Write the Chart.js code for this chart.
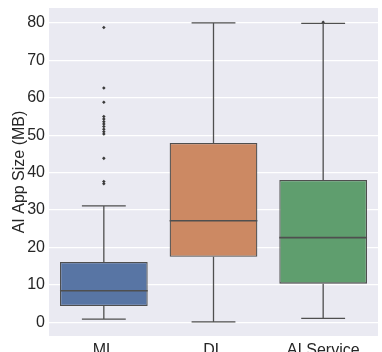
<!DOCTYPE html>
<html>
<head>
<meta charset="utf-8">
<script src="https://cdn.jsdelivr.net/npm/chart.js@4.4.1/dist/chart.umd.min.js"></script>
<style>
  html, body { margin: 0; padding: 0; background: #fff; }
  #wrap { width: 382px; height: 352px; }
</style>
</head>
<body>
<div id="wrap"><canvas id="c"></canvas></div>
<script>
/* Kutu grafiği: kutu = Q1..Q3 (yüzen çubuk), bıyık ve medyan eklentiyle çizilir */

const CATEGORIES = ["ML", "DL", "AI Service"];
const Q1 = [4.3, 17.5, 10.3];
const MEDIAN = [8.4, 27.1, 22.6];
const Q3 = [16.1, 47.9, 38.0];
const WHISKER_LOW = [0.8, 0.1, 1.0];
const WHISKER_HIGH = [31.1, 80.0, 79.9];
const OUTLIERS_ML = [78.8, 62.6, 58.8, 55.0, 54.3, 53.6, 53.0, 52.3, 51.6, 50.9, 50.3, 43.8, 37.6, 37.0];
const OUTLIERS_AI = [80.2];
const Y_TICKS = [0, 10, 20, 30, 40, 50, 60, 70, 80];

const FILLS = ["#5875a4", "#cc8963", "#5f9e6e"];
const LINE = "#4f4f4f";
const BG = "#eaeaf2";
const INK = "#262626";
const FONT = '"Liberation Sans", Arial, sans-serif';

const outlierPoints = [
  ...OUTLIERS_ML.map((y) => ({ x: "ML", y })),
  ...OUTLIERS_AI.map((y) => ({ x: "AI Service", y })),
];

const plotBackground = {
  id: "plotBackground",
  beforeDraw(chart) {
    const { ctx, chartArea: a } = chart;
    ctx.save();
    ctx.fillStyle = BG;
    ctx.fillRect(a.left, a.top, a.right - a.left, a.bottom - a.top);
    ctx.restore();
  },
};

const whiskers = {
  id: "whiskers",
  afterDatasetsDraw(chart) {
    const { ctx } = chart;
    const y = chart.scales.y;
    const bars = chart.getDatasetMeta(0).data;
    ctx.save();
    ctx.strokeStyle = LINE;
    bars.forEach((bar, i) => {
      const half = bar.width / 2;
      const cap = bar.width / 4;
      const yq1 = y.getPixelForValue(Q1[i]);
      const yq3 = y.getPixelForValue(Q3[i]);
      const ylo = y.getPixelForValue(WHISKER_LOW[i]);
      const yhi = y.getPixelForValue(WHISKER_HIGH[i]);
      const ymed = y.getPixelForValue(MEDIAN[i]);
      ctx.lineWidth = 1.3;
      ctx.beginPath();
      ctx.moveTo(bar.x, yq1); ctx.lineTo(bar.x, ylo);
      ctx.moveTo(bar.x, yq3); ctx.lineTo(bar.x, yhi);
      ctx.moveTo(bar.x - cap, ylo); ctx.lineTo(bar.x + cap, ylo);
      ctx.moveTo(bar.x - cap, yhi); ctx.lineTo(bar.x + cap, yhi);
      ctx.stroke();
      ctx.lineWidth = 1.6;
      ctx.beginPath();
      ctx.moveTo(bar.x - half, ymed); ctx.lineTo(bar.x + half, ymed);
      ctx.stroke();
    });
    ctx.restore();
  },
};

new Chart(document.getElementById("c"), {
  type: "bar",
  data: {
    labels: CATEGORIES,
    datasets: [
      {
        data: CATEGORIES.map((_, i) => [Q1[i], Q3[i]]),
        backgroundColor: FILLS,
        borderColor: LINE,
        borderWidth: 1.3,
        borderSkipped: false,
        barPercentage: 0.8,
        categoryPercentage: 1,
      },
      {
        type: "scatter",
        data: outlierPoints,
        backgroundColor: "#3a3a3a",
        borderWidth: 0,
        pointStyle: "rectRot",
        pointRadius: 1.8,
      },
    ],
  },
  options: {
    responsive: true,
    maintainAspectRatio: false,
    animation: false,
    layout: { padding: { top: 8, right: 1 } },
    plugins: { legend: { display: false }, tooltip: { enabled: false } },
    scales: {
      x: {
        grid: { display: false },
        border: { display: false },
        ticks: { color: INK, padding: -3, font: { family: FONT, size: 16 } },
        afterFit: (s) => { s.height = 16; },
      },
      y: {
        min: -3.7,
        max: 84,
        afterBuildTicks: (axis) => { axis.ticks = Y_TICKS.map((v) => ({ value: v })); },
        grid: { color: "#ffffff", lineWidth: 1.3, drawTicks: false },
        border: { display: false },
        ticks: { color: INK, padding: 4, font: { family: FONT, size: 16 } },
        title: {
          display: true,
          text: "AI App Size (MB)",
          color: INK,
          padding: { top: 10, bottom: 0 },
          font: { family: FONT, size: 16 },
        },
        // etiket taşma payı grafik alanını aşağı itmesin
        afterFit: (s) => { s.width = 49; s.paddingTop = 0; s.paddingBottom = 0; },
      },
    },
  },
  plugins: [plotBackground, whiskers],
});
</script>
</body>
</html>
